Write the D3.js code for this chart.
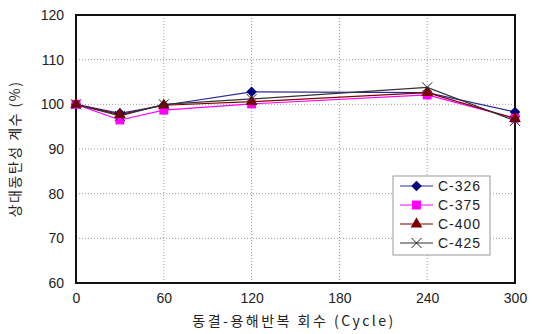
<!DOCTYPE html>
<html>
<head>
<meta charset="utf-8">
<script src="https://cdn.jsdelivr.net/npm/d3@7"></script>
<style>
  body { margin: 0; background: #fff; }
  text { font-family: "Noto Sans CJK KR", "DejaVu Sans", sans-serif; fill: #222; }
</style>
</head>
<body>
<svg id="chart"></svg>
<script>
// freeze-thaw cycles
const cycles = [0, 30, 60, 120, 240, 300];
const c326 = [100, 98.0, 99.8, 102.8, 102.6, 98.3];
const c375 = [100, 96.5, 98.7, 100.1, 102.1, 96.9];
const c400 = [100, 97.7, 99.8, 100.6, 102.6, 96.8];
const c425 = [100, 97.4, 100.0, 101.2, 103.8, 96.3];
const seriesNames = ['C-326', 'C-375', 'C-400', 'C-425'];
const xTicks = [0, 60, 120, 180, 240, 300];
const yTicks = [60, 70, 80, 90, 100, 110, 120];

const svgWidth = 534, svgHeight = 334;
const margin = { top: 15, bottom: 51, left: 76, right: 19 };
const width = svgWidth - margin.left - margin.right;
const height = svgHeight - margin.top - margin.bottom;

const svg = d3.select('#chart')
    .attr('width', svgWidth)
    .attr('height', svgHeight);
const g = svg.append('g')
    .attr('transform', 'translate(' + margin.left + ',' + margin.top + ')');

const x = d3.scaleLinear().domain([0, 300]).range([0, width]);
const y = d3.scaleLinear().domain([60, 120]).range([height, 0]);

// dotted grid
g.selectAll('.vgrid').data(xTicks.slice(1, -1)).enter().append('line')
    .attr('x1', d => x(d)).attr('x2', d => x(d))
    .attr('y1', 0).attr('y2', height)
    .attr('stroke', '#999').attr('stroke-dasharray', '1,2');
g.selectAll('.hgrid').data(yTicks.slice(1, -1)).enter().append('line')
    .attr('y1', d => y(d)).attr('y2', d => y(d))
    .attr('x1', 0).attr('x2', width)
    .attr('stroke', '#999').attr('stroke-dasharray', '1,2');

// axes, labels only
const xAxis = g.append('g')
    .attr('transform', 'translate(0,' + height + ')')
    .call(d3.axisBottom(x).tickValues(xTicks).tickSize(0).tickPadding(10));
const yAxis = g.append('g')
    .call(d3.axisLeft(y).tickValues(yTicks).tickSize(0).tickPadding(12));
[xAxis, yAxis].forEach(a => {
    a.select('.domain').remove();
    a.selectAll('text').style('font-size', '14px').style('font-family', 'Liberation Sans, Arial, sans-serif').attr('fill', '#333');
});

// frame
g.append('rect')
    .attr('width', width).attr('height', height)
    .attr('fill', 'none').attr('stroke', '#111').attr('stroke-width', 2);

const series = [
    { name: seriesNames[0], values: c326, color: '#00007f', sym: d3.symbolSquare, rot: 45, size: 55, line: '#2a2a9a' },
    { name: seriesNames[1], values: c375, color: '#ff00ff', sym: d3.symbolSquare, rot: 0, size: 80, line: '#ff00ff' },
    { name: seriesNames[2], values: c400, color: '#800000', sym: d3.symbolTriangle, rot: 0, size: 60, line: '#800000' },
    { name: seriesNames[3], values: c425, color: '#222', sym: null, rot: 0, size: 0, line: '#333' }
];

const line = d3.line().x((d, i) => x(cycles[i])).y(d => y(d));

function drawMarker(sel, s, cx, cy) {
    if (s.sym) {
        sel.append('path')
            .attr('d', d3.symbol().type(s.sym).size(s.size))
            .attr('transform', 'translate(' + cx + ',' + cy + ') rotate(' + s.rot + ')')
            .attr('fill', s.color);
    } else {
        const r = 5;
        sel.append('path')
            .attr('d', 'M' + (cx - r) + ',' + (cy - r) + 'L' + (cx + r) + ',' + (cy + r) +
                'M' + (cx - r) + ',' + (cy + r) + 'L' + (cx + r) + ',' + (cy - r))
            .attr('stroke', s.color).attr('stroke-width', 1);
    }
}

series.forEach(s => {
    g.append('path')
        .datum(s.values)
        .attr('d', line)
        .attr('fill', 'none')
        .attr('stroke', s.line)
        .attr('stroke-width', 1.2);
});
series.forEach(s => {
    const mg = g.append('g');
    s.values.forEach((v, i) => drawMarker(mg, s, x(cycles[i]), y(v)));
});

// legend
const lg = svg.append('g').attr('transform', 'translate(393,176)');
lg.append('rect')
    .attr('width', 97).attr('height', 79)
    .attr('fill', '#fff').attr('stroke', '#999').attr('stroke-width', 1);
series.forEach((s, i) => {
    const ly = 10 + i * 19;
    lg.append('line')
        .attr('x1', 7).attr('x2', 40).attr('y1', ly).attr('y2', ly)
        .attr('stroke', s.line).attr('stroke-width', 1.2);
    drawMarker(lg, s, 23.5, ly);
    lg.append('text')
        .attr('x', 45).attr('y', ly + 5)
        .style('font-size', '14px')
        .style('font-family', 'Liberation Sans, Arial, sans-serif')
        .style('letter-spacing', '1px')
        .attr('fill', '#333')
        .text(s.name);
});

// axis titles
svg.append('text')
    .attr('x', 294).attr('y', 326)
    .attr('text-anchor', 'middle')
    .style('font-size', '14px')
    .style('letter-spacing', '2.5px')
    .text('동결-용해반복 회수 (Cycle)');
svg.append('text')
    .attr('transform', 'translate(20,' + (margin.top + height / 2) + ') rotate(-90)')
    .attr('text-anchor', 'middle')
    .style('font-size', '14px')
    .style('letter-spacing', '1.5px')
    .text('상대동탄성 계수 (%)');
</script>
</body>
</html>
